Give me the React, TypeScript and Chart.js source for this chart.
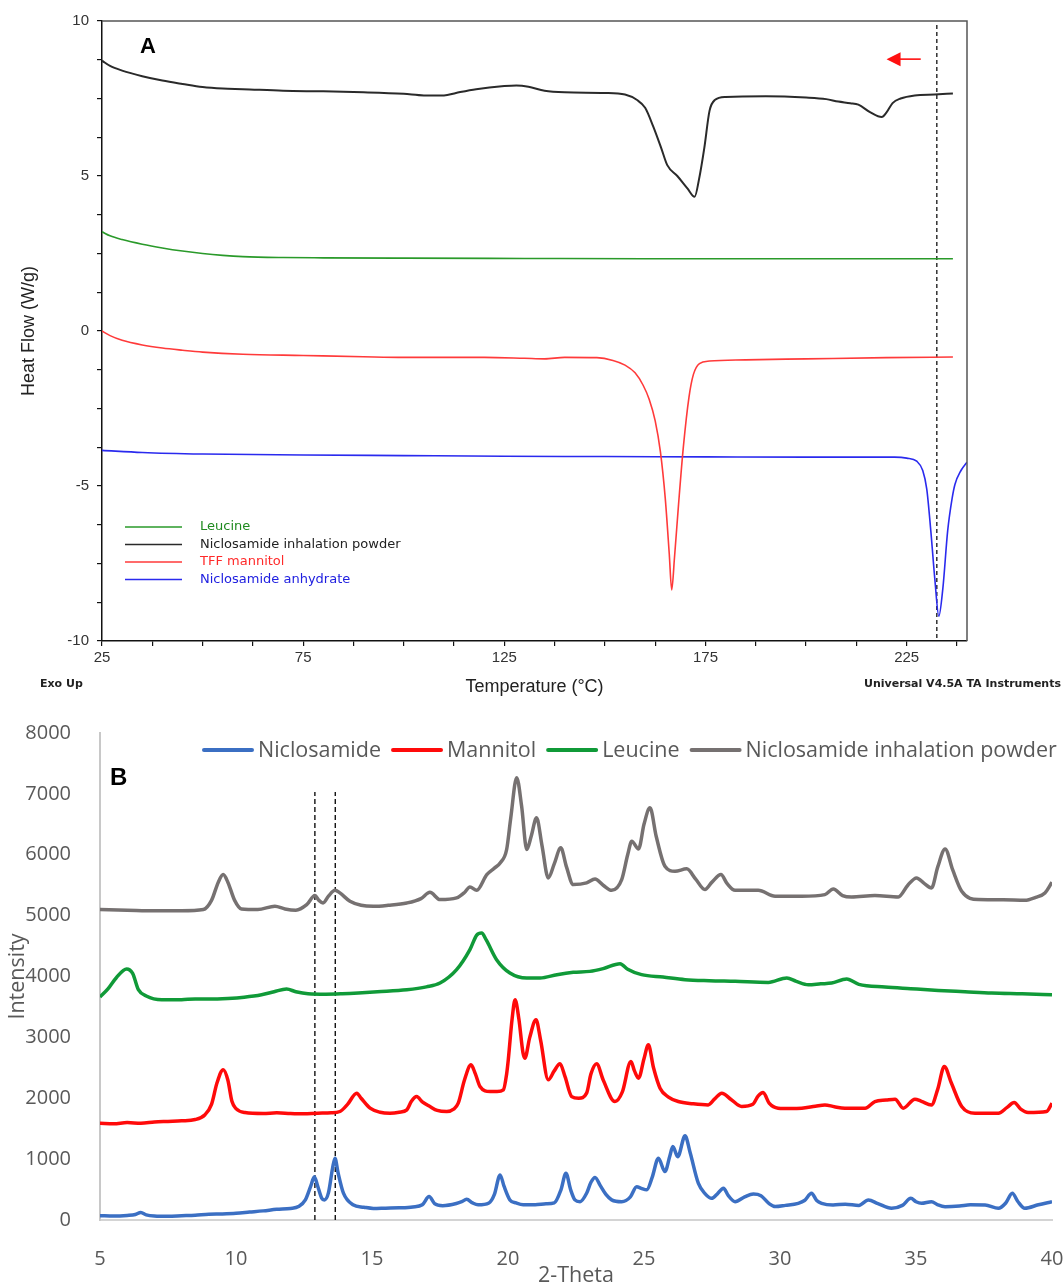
import React, { useEffect, useRef } from 'react';
import { Chart, registerables } from 'chart.js';

Chart.register(...registerables);

// ---------------- Panel A: DSC (temperature °C, heat flow W/g) ----------------
const dscLegendLabels = ['Leucine', 'Niclosamide inhalation powder', 'TFF mannitol', 'Niclosamide anhydrate'];

const leucineDsc: [number, number][] = [
  [25, 3.2], [27, 3.07], [30, 2.95], [35, 2.8], [40, 2.68], [45, 2.58], [50, 2.5], [55, 2.44],
  [60, 2.4], [70, 2.37], [80, 2.36], [100, 2.35], [130, 2.34], [160, 2.33], [200, 2.33], [236.5, 2.33],
];

const powderDsc: [number, number][] = [
  [25, 8.72], [27, 8.55], [30, 8.4], [35, 8.22], [40, 8.08], [45, 7.97], [50, 7.87], [55, 7.82],
  [60, 7.8], [70, 7.75], [80, 7.73], [90, 7.7], [100, 7.65], [105, 7.6], [110, 7.6], [113, 7.68],
  [118, 7.8], [125, 7.9], [128, 7.92], [131, 7.88], [135, 7.75], [140, 7.7], [150, 7.68], [155, 7.63],
  [158, 7.45], [160, 7.2], [162, 6.6], [164, 5.9], [165.5, 5.35], [168, 5.0], [170.5, 4.6], [172.3, 4.33],
  [173.4, 4.9], [174.7, 5.9], [176, 7.1], [177.3, 7.45], [180, 7.55], [190, 7.57], [200, 7.53],
  [205, 7.48], [208, 7.4], [211, 7.35], [213, 7.3], [216, 7.05], [218.8, 6.9], [220, 7.05], [221.5, 7.35],
  [223.5, 7.5], [227, 7.6], [232, 7.63], [236.5, 7.66],
];

const mannitolDsc: [number, number][] = [
  [25, 0.0], [27, -0.15], [30, -0.3], [35, -0.45], [40, -0.55], [45, -0.62], [50, -0.68], [60, -0.75],
  [75, -0.79], [90, -0.83], [100, -0.85], [120, -0.85], [130, -0.88], [135, -0.9], [140, -0.85],
  [148, -0.86], [152, -0.95], [155, -1.1], [157.5, -1.35], [159.5, -1.75], [161, -2.2], [162.5, -2.9],
  [163.8, -3.9], [165, -5.4], [166, -7.2], [166.6, -8.35], [167.3, -7.3], [168.3, -5.6], [169.5, -3.74],
  [170.9, -2.13], [172, -1.4], [173.5, -1.05], [176, -0.97], [185, -0.93], [200, -0.9], [220, -0.86],
  [236.5, -0.84],
];

const anhydrateDsc: [number, number][] = [
  [25, -3.85], [35, -3.92], [50, -3.97], [75, -4.0], [100, -4.02], [125, -4.04], [150, -4.05],
  [175, -4.06], [200, -4.07], [222, -4.07], [225, -4.1], [227.5, -4.2], [229, -4.5], [230, -5.1],
  [231, -6.44], [232, -8.0], [233, -9.2], [234, -8.3], [235.2, -6.44], [236.3, -5.4], [237, -4.95],
  [238.5, -4.5], [240, -4.23],
];

const dscGuideLine: [number, number][] = [[232.5, -9.9], [232.5, 9.87]];
const dscArrow: [number, number][] = [[228.5, 8.77], [220, 8.77]]; // tail, tip

// ---------------- Panel B: XRD (2-Theta, intensity) ----------------
const xrdLegendLabels = ['Niclosamide', 'Mannitol', 'Leucine', 'Niclosamide inhalation powder'];

const niclosamideXrd: [number, number][] = [
  [5.0, 70], [5.5, 65], [6.0, 75], [6.3, 90], [6.5, 125], [6.7, 85], [7.0, 65], [7.5, 60], [8.0, 70],
  [8.5, 80], [9.0, 95], [9.5, 100], [10.0, 110], [10.5, 130], [11.0, 150], [11.5, 175], [12.0, 190],
  [12.3, 220], [12.55, 330], [12.75, 560], [12.88, 710], [13.0, 560], [13.15, 360], [13.25, 330],
  [13.4, 450], [13.55, 850], [13.64, 1015], [13.75, 780], [13.95, 440], [14.3, 250], [14.7, 210],
  [15.05, 190], [15.5, 195], [16.0, 200], [16.5, 215], [16.85, 250], [17.1, 385], [17.3, 270],
  [17.6, 235], [18.1, 270], [18.3, 300], [18.48, 340], [18.7, 280], [18.9, 250], [19.3, 280],
  [19.5, 420], [19.71, 740], [19.85, 560], [20.07, 330], [20.3, 280], [20.56, 250], [21.0, 250],
  [21.4, 265], [21.7, 280], [21.95, 500], [22.13, 770], [22.3, 500], [22.46, 330], [22.65, 300],
  [22.89, 440], [23.05, 620], [23.2, 700], [23.4, 560], [23.6, 420], [23.81, 330], [24.18, 300],
  [24.5, 380], [24.73, 548], [24.9, 520], [25.1, 495], [25.3, 700], [25.53, 1014], [25.77, 795],
  [25.95, 1050], [26.06, 1206], [26.24, 1041], [26.51, 1382], [26.7, 1100], [27.0, 600], [27.25, 430],
  [27.49, 356], [27.7, 430], [27.92, 521], [28.1, 400], [28.35, 300], [28.7, 380], [29.02, 427],
  [29.3, 400], [29.6, 270], [29.82, 220], [30.2, 240], [30.67, 274], [30.9, 320], [31.16, 439],
  [31.35, 320], [31.53, 274], [31.95, 247], [32.4, 260], [32.9, 240], [33.25, 329], [33.6, 270],
  [34.1, 192], [34.5, 240], [34.81, 356], [35.0, 300], [35.2, 274], [35.57, 301], [35.8, 250],
  [36.07, 219], [36.6, 230], [37.0, 250], [37.54, 247], [38.03, 192], [38.3, 280], [38.54, 439],
  [38.75, 300], [39.0, 192], [39.5, 250], [40.0, 301],
];

const mannitolXrd: [number, number][] = [
  [5.0, 1590], [5.5, 1580], [6.0, 1600], [6.5, 1590], [7.0, 1610], [7.5, 1620], [8.0, 1630], [8.5, 1650],
  [8.86, 1730], [9.1, 1900], [9.3, 2250], [9.53, 2470], [9.7, 2300], [9.85, 1950], [10.0, 1830],
  [10.33, 1765], [11.0, 1750], [11.5, 1760], [12.0, 1750], [12.5, 1745], [13.0, 1755], [13.5, 1760],
  [13.82, 1782], [14.1, 1900], [14.44, 2084], [14.6, 2000], [14.93, 1837], [15.3, 1770], [15.66, 1755],
  [16.0, 1770], [16.28, 1809], [16.45, 1950], [16.64, 2028], [16.85, 1940], [17.13, 1864], [17.4, 1800],
  [17.75, 1782], [18.0, 1820], [18.17, 1919], [18.4, 2300], [18.64, 2549], [18.8, 2400], [18.97, 2193],
  [19.34, 2110], [19.6, 2110], [19.83, 2138], [19.95, 2400], [20.01, 2631], [20.15, 3300], [20.26, 3618],
  [20.4, 3300], [20.55, 2750], [20.62, 2659], [20.8, 3000], [21.03, 3289], [21.2, 2950], [21.48, 2303],
  [21.7, 2450], [21.91, 2566], [22.1, 2350], [22.34, 2028], [22.6, 2000], [22.89, 2084], [23.05, 2400],
  [23.26, 2566], [23.5, 2300], [23.93, 1946], [24.2, 2100], [24.52, 2604], [24.65, 2450], [24.8, 2330],
  [25.0, 2650], [25.16, 2878], [25.35, 2500], [25.59, 2166], [25.9, 2020], [26.26, 1946], [26.8, 1910],
  [27.36, 1891], [27.6, 1990], [27.86, 2084], [28.2, 1980], [28.59, 1864], [29.0, 1900], [29.2, 2040],
  [29.38, 2094], [29.6, 1920], [29.93, 1837], [30.4, 1830], [30.8, 1837], [31.3, 1870], [31.65, 1891],
  [32.0, 1860], [32.39, 1837], [33.13, 1837], [33.49, 1946], [33.9, 1970], [34.23, 1985], [34.53, 1837],
  [34.96, 1985], [35.2, 1950], [35.57, 1891], [35.8, 2150], [36.04, 2522], [36.3, 2250], [36.68, 1864],
  [37.17, 1755], [38.03, 1755], [38.35, 1850], [38.61, 1930], [38.85, 1820], [39.12, 1765], [39.8, 1782],
  [40.0, 1919],
];

const leucineXrd: [number, number][] = [
  [5.0, 3662], [5.3, 3800], [5.6, 3980], [5.98, 4123], [6.2, 4050], [6.41, 3783], [6.7, 3680],
  [7.27, 3618], [8.0, 3620], [8.5, 3630], [9.0, 3630], [9.7, 3640], [10.3, 3660], [10.94, 3700],
  [11.4, 3750], [11.86, 3794], [12.2, 3750], [12.65, 3717], [13.3, 3710], [13.9, 3717], [14.5, 3730],
  [15.2, 3750], [16.28, 3783], [17.0, 3830], [17.5, 3892], [18.11, 4112], [18.6, 4441], [18.85, 4680],
  [19.03, 4715], [19.2, 4600], [19.58, 4276], [20.07, 4057], [20.69, 3975], [21.18, 3975], [21.8, 4030],
  [22.4, 4068], [23.01, 4084], [23.5, 4130], [24.12, 4211], [24.4, 4120], [24.91, 4030], [25.7, 3990],
  [26.51, 3947], [27.4, 3930], [28.35, 3920], [29.57, 3903], [30.25, 3975], [30.6, 3920], [31.04, 3865],
  [31.5, 3880], [31.9, 3892], [32.45, 3958], [32.9, 3870], [33.86, 3827], [34.8, 3800], [35.82, 3772],
  [36.8, 3750], [37.78, 3728], [38.9, 3715], [40.0, 3700],
];

const powderXrd: [number, number][] = [
  [5.0, 5100], [6.0, 5090], [7.0, 5080], [8.0, 5080], [8.8, 5100], [9.1, 5250], [9.35, 5550], [9.53, 5674],
  [9.7, 5550], [9.95, 5250], [10.2, 5110], [10.8, 5100], [11.43, 5153], [11.8, 5110], [12.2, 5090],
  [12.6, 5180], [12.9, 5329], [13.05, 5250], [13.2, 5208], [13.4, 5320], [13.64, 5416], [13.82, 5373],
  [14.19, 5236], [14.6, 5170], [15.05, 5153], [15.6, 5170], [16.28, 5208], [16.8, 5280], [17.13, 5383],
  [17.5, 5263], [18.11, 5291], [18.4, 5380], [18.6, 5472], [18.85, 5416], [19.22, 5674], [19.5, 5780],
  [19.71, 5866], [19.95, 6086], [20.1, 6600], [20.32, 7264], [20.5, 6800], [20.69, 6086], [20.85, 6300],
  [21.05, 6606], [21.25, 6150], [21.48, 5620], [21.7, 5850], [21.94, 6113], [22.15, 5800], [22.4, 5510],
  [22.89, 5538], [23.2, 5603], [23.5, 5500], [23.81, 5416], [24.18, 5592], [24.4, 6000], [24.55, 6222],
  [24.8, 6096], [25.0, 6500], [25.22, 6771], [25.45, 6300], [25.77, 5811], [26.14, 5729], [26.57, 5768],
  [26.9, 5600], [27.24, 5428], [27.5, 5550], [27.83, 5674], [28.05, 5530], [28.35, 5416], [29.2, 5416],
  [29.82, 5318], [30.8, 5318], [31.65, 5345], [31.96, 5438], [32.3, 5330], [32.63, 5307], [33.49, 5329],
  [34.35, 5307], [34.7, 5500], [35.02, 5620], [35.3, 5530], [35.57, 5455], [35.8, 5800], [36.07, 6096],
  [36.35, 5750], [36.68, 5400], [37.29, 5263], [38.2, 5260], [39.0, 5252], [39.4, 5300], [39.74, 5373],
  [40.0, 5548],
];

const xrdGuideLines: [number, number][][] = [
  [[12.9, 0], [12.9, 7030]],
  [[13.65, 0], [13.65, 7030]],
];

const toPoints = (pairs: [number, number][]) => pairs.map(([x, y]) => ({ x, y }));

function DscPanel() {
  const ref = useRef<HTMLCanvasElement>(null);
  useEffect(() => {
    const canvas = ref.current;
    if (!canvas) return;
    const sans = 'Liberation Sans';
    const annotations = {
      id: 'dscAnnotations',
      afterDraw(chart: any) {
        const { ctx, chartArea: a } = chart;
        const xs = chart.scales.x;
        const ys = chart.scales.y;
        ctx.save();
        // frame (top and right)
        ctx.strokeStyle = '#555';
        ctx.lineWidth = 1.5;
        ctx.beginPath();
        ctx.moveTo(a.left, a.top);
        ctx.lineTo(a.right, a.top);
        ctx.lineTo(a.right, a.bottom);
        ctx.stroke();
        // panel letter
        ctx.fillStyle = '#000';
        ctx.font = `bold 22px "${sans}"`;
        ctx.textAlign = 'left';
        ctx.textBaseline = 'alphabetic';
        ctx.fillText('A', 140, 53);
        // red arrow
        const tx = xs.getPixelForValue(dscArrow[0][0]);
        const ty = ys.getPixelForValue(dscArrow[0][1]);
        const hx = xs.getPixelForValue(dscArrow[1][0]);
        const hy = ys.getPixelForValue(dscArrow[1][1]);
        ctx.strokeStyle = '#ff1010';
        ctx.fillStyle = '#ff1010';
        ctx.lineWidth = 1.6;
        ctx.beginPath();
        ctx.moveTo(tx, ty);
        ctx.lineTo(hx + 10, hy);
        ctx.stroke();
        ctx.beginPath();
        ctx.moveTo(hx, hy);
        ctx.lineTo(hx + 14, hy - 7);
        ctx.lineTo(hx + 14, hy + 7);
        ctx.closePath();
        ctx.fill();
        // legend
        const ds = chart.data.datasets.filter((d: any) => !d.guide);
        ctx.font = '13px "DejaVu Sans"';
        ctx.textBaseline = 'middle';
        ds.forEach((d: any, i: number) => {
          const y = 527 + i * 17.5;
          ctx.strokeStyle = d.borderColor;
          ctx.lineWidth = 1.5;
          ctx.beginPath();
          ctx.moveTo(125, y);
          ctx.lineTo(182, y);
          ctx.stroke();
          ctx.fillStyle = d.legendTextColor;
          ctx.fillText(d.label, 200, y);
        });
        // instrument notes
        ctx.fillStyle = '#222';
        ctx.font = 'bold 11px "DejaVu Sans"';
        ctx.textAlign = 'left';
        ctx.fillText('Exo Up', 40, 684);
        ctx.textAlign = 'right';
        ctx.fillText('Universal V4.5A TA Instruments', 1061, 684);
        ctx.restore();
      },
    };
    const line = (label: string, pairs: [number, number][], color: string, textColor: string, width: number) => ({
      label,
      data: toPoints(pairs),
      borderColor: color,
      backgroundColor: color,
      legendTextColor: textColor,
      borderWidth: width,
      pointRadius: 0,
      cubicInterpolationMode: 'monotone',
      fill: false,
    });
    const chart = new Chart(canvas, {
      type: 'line',
      data: {
        datasets: [
          line(dscLegendLabels[0], leucineDsc, '#2a9a2a', '#1f8a1f', 1.6),
          line(dscLegendLabels[1], powderDsc, '#2a2a2a', '#222222', 2),
          line(dscLegendLabels[2], mannitolDsc, '#ff3a3a', '#ff2a2a', 1.6),
          line(dscLegendLabels[3], anhydrateDsc, '#2a2aee', '#2020e0', 1.6),
          {
            label: 'guide',
            guide: true,
            data: toPoints(dscGuideLine),
            borderColor: '#111',
            borderWidth: 1.3,
            borderDash: [4, 3],
            pointRadius: 0,
            fill: false,
          } as any,
        ] as any,
      },
      options: {
        responsive: false,
        animation: false,
        devicePixelRatio: 1,
        layout: { padding: { left: 0, top: 21, right: 97, bottom: 0 } },
        plugins: { legend: { display: false }, tooltip: { enabled: false } },
        scales: {
          x: {
            type: 'linear',
            min: 25,
            max: 240,
            afterFit: (s: any) => { s.height = 59; },
            border: { display: true, color: '#111', width: 1.5 },
            grid: { display: true, drawOnChartArea: false, drawTicks: true, tickLength: 5, color: '#111', lineWidth: 1.2 },
            ticks: {
              stepSize: 12.5,
              autoSkip: false,
              maxRotation: 0,
              includeBounds: false,
              padding: 3,
              color: '#333',
              font: { family: sans, size: 15 },
              callback: (v: any) => (Math.abs((Number(v) - 25) % 50) < 1e-6 ? String(v) : ''),
            },
            title: { display: true, text: 'Temperature (°C)', color: '#222', font: { family: sans, size: 18 }, padding: { top: 0, bottom: 2 } },
          },
          y: {
            type: 'linear',
            min: -10,
            max: 10,
            afterFit: (s: any) => { s.width = 102; },
            border: { display: true, color: '#111', width: 1.5 },
            grid: { display: true, drawOnChartArea: false, drawTicks: true, tickLength: 5, color: '#111', lineWidth: 1.2 },
            ticks: {
              stepSize: 1.25,
              autoSkip: false,
              padding: 8,
              color: '#333',
              font: { family: sans, size: 15 },
              callback: (v: any) => (Math.abs(Number(v) % 5) < 1e-6 ? String(v) : ''),
            },
            title: { display: true, text: 'Heat Flow (W/g)', color: '#222', font: { family: sans, size: 18 }, padding: { top: 18, bottom: 0 } },
          },
        },
      } as any,
      plugins: [annotations],
    });
    return () => chart.destroy();
  }, []);
  return <canvas ref={ref} width={1064} height={700} style={{ display: 'block', width: 1064, height: 700 }} />;
}

function XrdPanel() {
  const ref = useRef<HTMLCanvasElement>(null);
  useEffect(() => {
    const canvas = ref.current;
    if (!canvas) return;
    const sans = 'Open Sans';
    const grey = '#595959';
    const annotations = {
      id: 'xrdAnnotations',
      afterDraw(chart: any) {
        const { ctx } = chart;
        ctx.save();
        ctx.fillStyle = '#000';
        ctx.font = 'bold 24px "Liberation Sans"';
        ctx.textAlign = 'left';
        ctx.textBaseline = 'alphabetic';
        ctx.fillText('B', 110, 85);
        // legend
        const ds = chart.data.datasets.filter((d: any) => !d.guide);
        ctx.font = `21.5px "${sans}"`;
        ctx.textBaseline = 'middle';
        let x = 203;
        const y = 50;
        ds.forEach((d: any) => {
          ctx.strokeStyle = d.borderColor;
          ctx.lineWidth = 4;
          ctx.lineCap = 'round';
          ctx.beginPath();
          ctx.moveTo(x + 1, y);
          ctx.lineTo(x + 49, y);
          ctx.stroke();
          ctx.fillStyle = grey;
          ctx.fillText(d.label, x + 55, y + 1);
          x += 55 + ctx.measureText(d.label).width + 11;
        });
        ctx.restore();
      },
    };
    const line = (label: string, pairs: [number, number][], color: string) => ({
      label,
      data: toPoints(pairs),
      borderColor: color,
      backgroundColor: color,
      borderWidth: 3.5,
      pointRadius: 0,
      cubicInterpolationMode: 'monotone',
      fill: false,
    });
    const guides = xrdGuideLines.map((g) => ({
      label: 'guide',
      guide: true,
      data: toPoints(g),
      borderColor: '#111',
      borderWidth: 1.4,
      borderDash: [5, 3],
      pointRadius: 0,
      fill: false,
    }));
    const chart = new Chart(canvas, {
      type: 'line',
      data: {
        datasets: [
          line(xrdLegendLabels[0], niclosamideXrd, '#3b6fc3'),
          line(xrdLegendLabels[1], mannitolXrd, '#ff0a0a'),
          line(xrdLegendLabels[2], leucineXrd, '#109a38'),
          line(xrdLegendLabels[3], powderXrd, '#767171'),
          ...guides,
        ] as any,
      },
      options: {
        responsive: false,
        animation: false,
        devicePixelRatio: 1,
        layout: { padding: { left: 0, top: 33, right: 12, bottom: 0 } },
        plugins: { legend: { display: false }, tooltip: { enabled: false } },
        scales: {
          x: {
            type: 'linear',
            min: 5,
            max: 40,
            afterFit: (s: any) => { s.height = 80; s.paddingLeft = 0; s.paddingRight = 0; },
            border: { display: true, color: '#d4d4d4', width: 2 },
            grid: { display: false },
            ticks: {
              stepSize: 5,
              autoSkip: false,
              maxRotation: 0,
              padding: 19,
              color: grey,
              font: { family: sans, size: 20 },
              callback: (v: any) => String(v),
            },
            title: { display: true, text: '2-Theta', color: grey, font: { family: sans, size: 21.5 }, padding: { top: 0, bottom: 11 } },
          },
          y: {
            type: 'linear',
            min: 0,
            max: 8000,
            afterFit: (s: any) => { s.width = 100; s.paddingTop = 0; s.paddingBottom = 0; },
            border: { display: true, color: '#c8c8c8', width: 2 },
            grid: { display: false },
            ticks: {
              stepSize: 1000,
              autoSkip: false,
              padding: 21,
              color: grey,
              font: { family: sans, size: 20 },
              callback: (v: any) => String(v),
            },
            title: { display: true, text: 'Intensity', color: grey, font: { family: sans, size: 21.5 }, padding: { top: 5, bottom: 0 } },
          },
        },
      } as any,
      plugins: [annotations],
    });
    return () => chart.destroy();
  }, []);
  return <canvas ref={ref} width={1064} height={600} style={{ display: 'block', width: 1064, height: 600 }} />;
}

export default function App() {
  return (
    <div style={{ position: 'absolute', left: 0, top: 0, width: 1064, height: 1285, overflow: 'hidden', background: '#fff' }}>
      <div style={{ position: 'absolute', left: 0, top: 0, width: 1064, height: 700 }}>
        <DscPanel />
      </div>
      <div style={{ position: 'absolute', left: 0, top: 700, width: 1064, height: 600 }}>
        <XrdPanel />
      </div>
    </div>
  );
}
